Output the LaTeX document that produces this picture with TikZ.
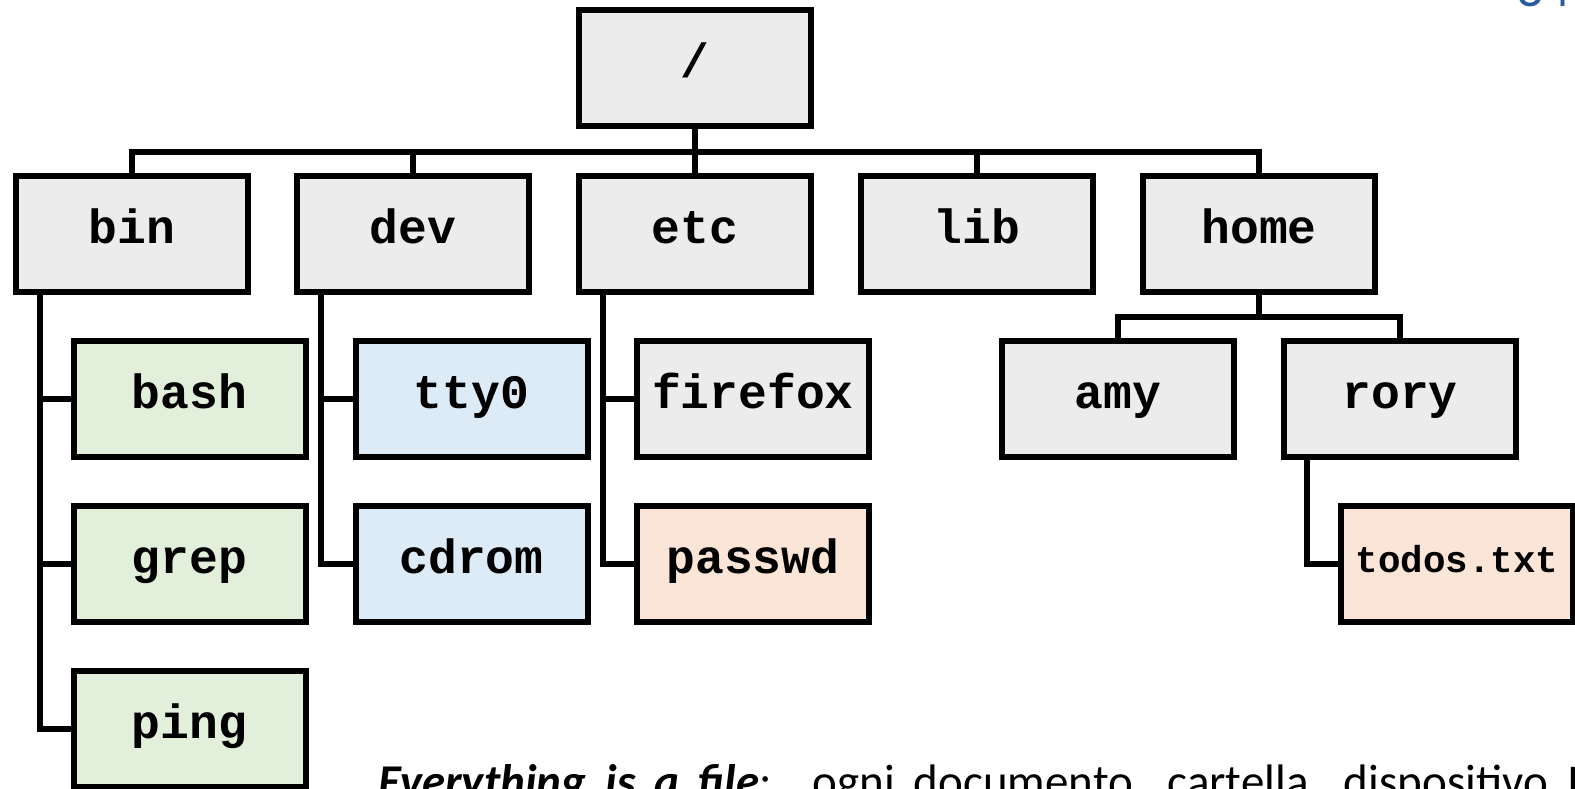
\documentclass[tikz,border=0pt]{standalone}
\usepackage{fontspec}
\setmonofont{Liberation Mono}
\newfontfamily\notefont{Carlito}
\definecolor{dirfill}{HTML}{ECECEC}
\definecolor{binfill}{HTML}{E2EFDA}
\definecolor{devfill}{HTML}{DDEBF7}
\definecolor{txtfill}{HTML}{FBE5D6}
\definecolor{pageblue}{RGB}{40,92,160}
\begin{document}
\begin{tikzpicture}[x=1pt,y=-1pt,
  entry/.style={draw=black, line width=6pt, minimum width=232pt, minimum height=116pt,
    inner sep=0pt, text height=31pt, text depth=12pt, fill=dirfill,
    font=\ttfamily\bfseries\fontsize{48}{48}\selectfont},
  exe/.style={entry, fill=binfill},
  device/.style={entry, fill=devfill},
  plain/.style={entry, fill=txtfill},
  wire/.style={draw=black, line width=6pt}]
\path[use as bounding box, clip] (0,0) rectangle (1575,789);

% directory boxes
\node[entry] (root) at (695,68.5) {/};
\node[entry] (bin)  at (132,234) {bin};
\node[entry] (dev)  at (413,234) {dev};
\node[entry] (etc)  at (695,234) {etc};
\node[entry] (lib)  at (977,234) {lib};
\node[entry] (home) at (1259,234) {home};

\node[exe] (bash) at (189.5,399) {bash};
\node[exe] (grep) at (189.5,564) {grep};
\node[exe] (ping) at (189.5,728.5) {ping};

\node[device] (tty) at (471.5,399) {tty0};
\node[device] (cdrom) at (471.5,564) {cdrom};

\node[entry] (firefox) at (753,399) {firefox};
\node[plain] (passwd) at (753,564) {passwd};

\node[entry] (amy)  at (1118,399) {amy};
\node[entry] (rory) at (1400,399) {rory};
\node[plain, text height=25pt, text depth=9pt,
  font=\ttfamily\bfseries\fontsize{37.5}{37.5}\selectfont] (todos) at (1457,564) {todos.txt};

% tree connectors
\coordinate (bus) at (695,152);
\coordinate (hbus) at (1259,316.5);
\draw[wire] (bin.north) |- (bus) -| (home.north);
\draw[wire] (root.south) -- (etc.north);
\draw[wire] (dev.north) -- (dev.north |- bus);
\draw[wire] (lib.north) -- (lib.north |- bus);

\draw[wire] ([xshift=-92pt]bin.south) |- (ping.west);
\draw[wire] ([xshift=-92pt]bin.south |- bash.west) -- (bash.west);
\draw[wire] ([xshift=-92pt]bin.south |- grep.west) -- (grep.west);

\draw[wire] ([xshift=-92pt]dev.south) |- (cdrom.west);
\draw[wire] ([xshift=-92pt]dev.south |- tty.west) -- (tty.west);

\draw[wire] ([xshift=-92pt]etc.south) |- (passwd.west);
\draw[wire] ([xshift=-92pt]etc.south |- firefox.west) -- (firefox.west);

\draw[wire] (home.south) -- (hbus);
\draw[wire] (amy.north) |- (hbus) -| (rory.north);
\draw[wire] ([xshift=-93pt]rory.south) |- (todos.west);

% caption: one justified line with equal word spaces, and the page number
\node[anchor=base west, inner sep=0pt, font=\notefont\fontsize{47}{47}\selectfont]
  (note) at (378,797)
  {\hbox to 1201pt{\spaceskip=1pt plus 1fil\relax
   {\bfseries\itshape Everything is a file}: ogni documento, cartella, dispositivo I}};
\node[anchor=base east, inner sep=0pt, text=pageblue, font=\notefont\fontsize{54}{54}\selectfont]
  (page) at (1571,7) {34};
\end{tikzpicture}
\end{document}
